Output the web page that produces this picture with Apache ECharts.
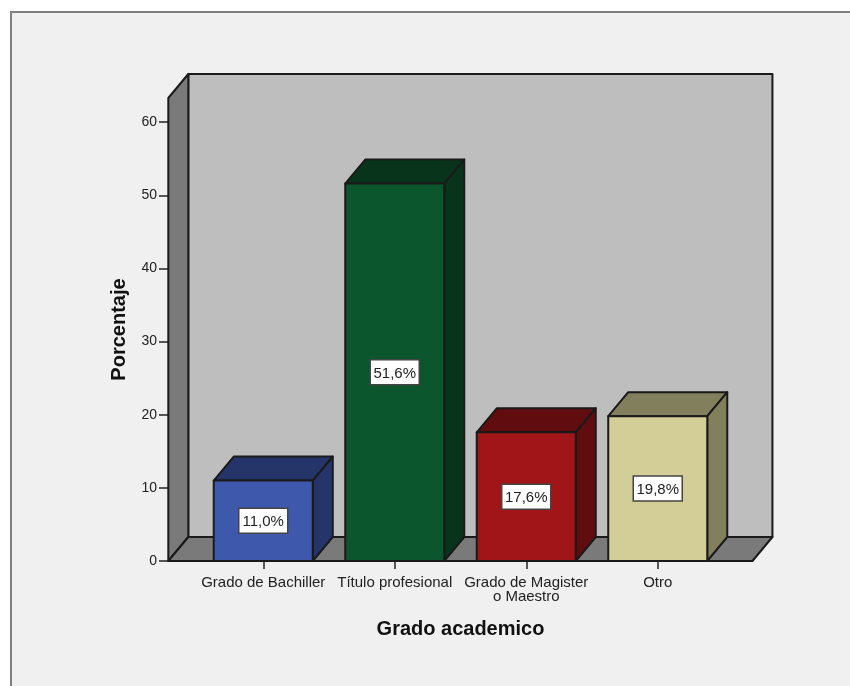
<!DOCTYPE html>
<html>
<head>
<meta charset="utf-8">
<style>html,body{margin:0;padding:0;background:#fff}#chart{width:850px;height:686px}</style>
<script src="https://cdn.jsdelivr.net/npm/echarts@6/dist/echarts.min.js"></script>
</head>
<body>
<div id="chart"></div>
<script>
// Percentage of respondents by academic degree
const categories = ['Grado de Bachiller', 'Título profesional', 'Grado de Magister\no Maestro', 'Otro'];
const percentages = [11.0, 51.6, 17.6, 19.8];
const valueLabels = ['11,0%', '51,6%', '17,6%', '19,8%'];
const tickValues = [0, 10, 20, 30, 40, 50, 60];
const frontColors = ['#3e58ac', '#0b562d', '#a11417', '#d3ce97'];
const shadeColors = ['#253569', '#07341b', '#610c0e', '#817f5c'];

// Oblique projection used for the box depth
const DX = 20, DY = -24;
const EDGE = '#1a1a1a';
const FONT = '"Liberation Sans", Arial, sans-serif';

function poly(points, fill) {
  return {
    type: 'polygon',
    shape: { points },
    style: { fill, stroke: EDGE, lineWidth: 2, lineJoin: 'round' }
  };
}

// Back wall, side wall and floor of the plot box
function renderRoom(params, api) {
  const cs = params.coordSys;
  const band = api.size([1, 0])[0];
  const baseY = api.coord([0, 0])[1];
  const left = api.coord([0, 0])[0] - band * 0.722;
  const right = api.coord([categories.length - 1, 0])[0] + band * 0.72;
  const top = cs.y;
  return {
    type: 'group',
    children: [
      poly([[left + DX, top + DY], [right + DX, top + DY], [right + DX, baseY + DY], [left + DX, baseY + DY]], '#bebebe'),
      poly([[left, top], [left + DX, top + DY], [left + DX, baseY + DY], [left, baseY]], '#7a7a7a'),
      poly([[left, baseY], [left + DX, baseY + DY], [right + DX, baseY + DY], [right, baseY]], '#7a7a7a')
    ]
  };
}

// One extruded bar with its boxed value label
function renderBar(params, api) {
  const i = api.value(0);
  const band = api.size([1, 0])[0];
  const w = band * 0.753;
  const top = api.coord([i, api.value(1)]);
  const base = api.coord([i, 0]);
  const l = top[0] - w / 2, r = top[0] + w / 2;
  const midY = (top[1] + base[1]) / 2;
  return {
    type: 'group',
    children: [
      poly([[l, top[1]], [l + DX, top[1] + DY], [r + DX, top[1] + DY], [r, top[1]]], shadeColors[i]),
      poly([[r, top[1]], [r + DX, top[1] + DY], [r + DX, base[1] + DY], [r, base[1]]], shadeColors[i]),
      poly([[l, top[1]], [r, top[1]], [r, base[1]], [l, base[1]]], frontColors[i]),
      {
        type: 'rect',
        shape: { x: top[0] - 24.5, y: midY - 12.5, width: 49, height: 25 },
        style: { fill: '#fff', stroke: '#444', lineWidth: 1.5 }
      },
      {
        type: 'text',
        style: {
          x: top[0], y: midY + 1.5,
          text: valueLabels[i],
          fill: '#222',
          font: '15px ' + FONT,
          align: 'center', verticalAlign: 'middle'
        }
      }
    ]
  };
}

const chart = echarts.init(document.getElementById('chart'), null, { renderer: 'canvas' });
chart.setOption({
  animation: false,
  backgroundColor: '#ffffff',
  graphic: [{
    type: 'rect',
    z: -10,
    shape: { x: 11, y: 12, width: 900, height: 800 },
    style: { fill: '#f0f0f0', stroke: '#7f7f7f', lineWidth: 2 }
  }],
  grid: { left: 197.5, width: 526, top: 98, bottom: 125 },
  xAxis: {
    type: 'category',
    data: categories,
    name: 'Grado academico',
    nameLocation: 'middle',
    nameGap: 58,
    nameTextStyle: { fontFamily: FONT, fontWeight: 'bold', fontSize: 20, color: '#111' },
    axisLine: { show: false },
    axisTick: { show: true, alignWithLabel: true, length: 8, lineStyle: { color: '#222', width: 1.5 } },
    axisLabel: { fontFamily: FONT, fontSize: 15, color: '#222', lineHeight: 14, margin: 15, interval: 0 },
    z: 10
  },
  yAxis: {
    type: 'value',
    min: 0,
    max: 63.3,
    offset: 29.5,
    name: 'Porcentaje',
    nameLocation: 'middle',
    nameGap: 39,
    nameTextStyle: { fontFamily: FONT, fontWeight: 'bold', fontSize: 20, color: '#111' },
    axisLine: { show: false },
    splitLine: { show: false },
    axisTick: { show: true, length: 9, customValues: tickValues, lineStyle: { color: '#222', width: 1.5 } },
    axisLabel: { fontFamily: FONT, fontSize: 14, color: '#222', margin: 11, padding: [2, 0, 0, 0], customValues: tickValues }
  },
  series: [
    {
      type: 'custom',
      renderItem: renderRoom,
      data: [[0, 0]],
      encode: { x: 0, y: 1 },
      silent: true,
      clip: false,
      z: 1
    },
    {
      type: 'custom',
      renderItem: renderBar,
      data: percentages.map((v, i) => [i, v]),
      encode: { x: 0, y: 1 },
      clip: false,
      z: 2
    }
  ]
});
</script>
</body>
</html>
